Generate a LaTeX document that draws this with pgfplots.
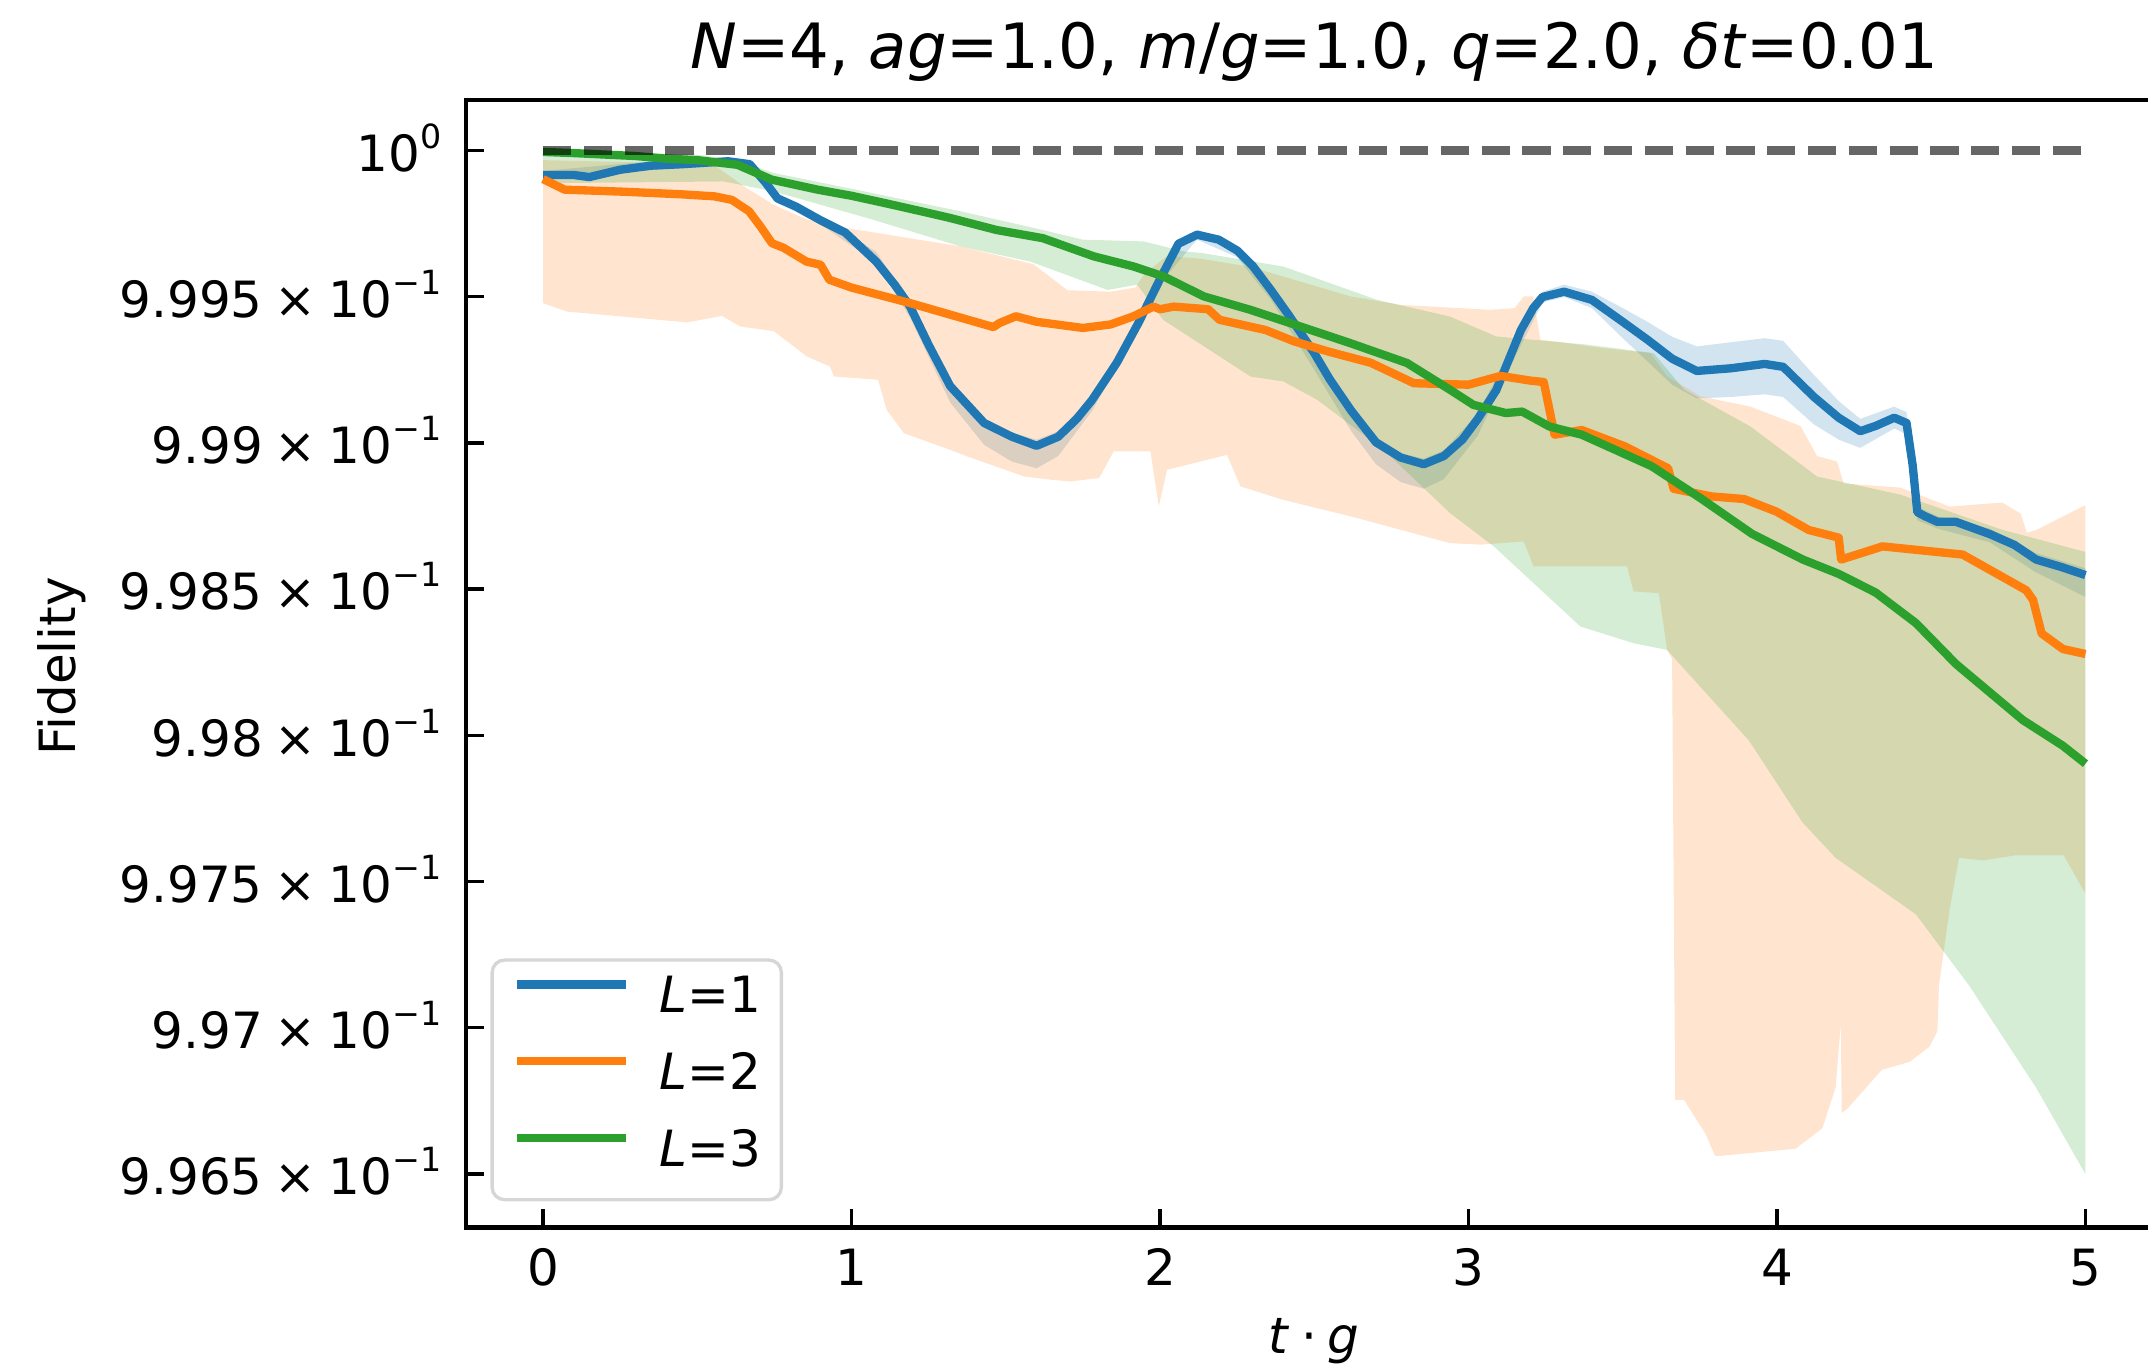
\documentclass[border=0pt]{standalone}
\usepackage{fontspec}
\setmainfont{DejaVu Sans}
\usepackage{pgfplots}
\pgfplotsset{compat=1.18}
\definecolor{c1}{HTML}{1F77B4}
\definecolor{c2}{HTML}{FF7F0E}
\definecolor{c3}{HTML}{2CA02C}
\definecolor{legedge}{gray}{0.84}
\newcommand{\sx}[1]{\raisebox{5.5pt}{\fontsize{8}{9}\selectfont #1}}
\newcommand{\tl}[1]{#1\hspace{0.24em}×\hspace{0.24em}10\sx{−1}}
\begin{document}
\begin{tikzpicture}
\begin{axis}[
  scale only axis, width=407.5pt, height=270.8pt,
  xmin=-0.25, xmax=5.25, ymin=0.996317, ymax=1.000173,
  axis line style={line width=1.1pt},
  major tick style={line width=0.8pt, black},
  major tick length=4.4pt,
  tick align=inside,
  xtick pos=left, ytick pos=left,
  xtick={0,1,2,3,4,5}, xticklabels={0,1,2,3,4,5},
  ytick={0.9965,0.997,0.9975,0.998,0.9985,0.999,0.9995,1},
  yticklabels={\tl{9.965},\tl{9.97},\tl{9.975},\tl{9.98},\tl{9.985},\tl{9.99},\tl{9.995},10\sx{0}},
  tick label style={font=\fontsize{12}{14}\selectfont},
  xticklabel style={anchor=base, inner sep=0pt, yshift=-14pt},
  yticklabel style={anchor=base east, inner sep=0pt, xshift=-5.7pt, yshift=-5pt},
  every axis title shift=0pt,
  title={\textit{N}=4, \textit{ag}=1.0, \textit{m}/\textit{g}=1.0, \textit{q}=2.0, \textit{δt}=0.01},
  title style={at={(axis description cs:0.5,1.0279)}, anchor=base, font=\fontsize{15}{18}\selectfont, inner sep=0pt},
  xlabel={\textit{t}\hspace{0.22em}·\hspace{0.22em}\textit{g}},
  xlabel style={at={(axis description cs:0.5,-0.1118)}, anchor=base, font=\fontsize{12}{14}\selectfont, inner sep=0pt},
  ylabel={Fidelity},
  ylabel style={at={(axis description cs:-0.2303,0.4976)}, anchor=base, font=\fontsize{12}{14}\selectfont, inner sep=0pt},
  legend style={at={(axis description cs:0,0)}, anchor=south west, xshift=5.9pt, yshift=6.25pt,
    draw=legedge, line width=0.8pt, rounded corners=3pt, fill=white, fill opacity=0.8, text opacity=1,
    font=\fontsize{12}{14}\selectfont, inner xsep=4.9pt, inner ysep=3.9pt,
    row sep=5.6pt, column sep=7pt,
    nodes={inner sep=0pt, text depth=4pt}},
  legend cell align=left,
  legend image code/.code={\draw[#1, line width=2pt] (0pt,4.4pt) -- (26.3pt,4.4pt);},
]
% ---- bands ----
\addplot[draw=none, fill=c1, fill opacity=0.2, forget plot] coordinates {
(0,0.999930) (0.3,0.999958) (0.6,0.999977) (0.67,0.999967) (0.76,0.999855) (0.9,0.999775) (1.08,0.999653) (1.19,0.999480) (1.32,0.999208) (1.43,0.999082) (1.52,0.999035) (1.6,0.999011) (1.67,0.999040) (1.78,0.999161) (1.93,0.999424) (2.0,0.999578) (2.12,0.999728) (2.25,0.999672) (2.36,0.999536) (2.5,0.999321) (2.62,0.999124) (2.7,0.999016) (2.78,0.998965) (2.855,0.998946) (2.92,0.998974) (3.03,0.999100) (3.13,0.999302) (3.24,0.999517) (3.31,0.999541) (3.4,0.999517) (3.5,0.999461) (3.58,0.999414) (3.66,0.999363) (3.74,0.999330) (3.85,0.999344) (3.96,0.999358) (4.02,0.999349) (4.12,0.999232) (4.2,0.999143) (4.27,0.999082) (4.38,0.999124) (4.42,0.999105) (4.44,0.998946) (4.455,0.998782) (4.52,0.998749) (4.69,0.998707) (4.84,0.998623) (5.0,0.998571)
(5.0,0.998473) (4.84,0.998557) (4.69,0.998660) (4.52,0.998707) (4.455,0.998735) (4.44,0.998899) (4.42,0.999030) (4.38,0.999049) (4.27,0.998983) (4.2,0.999011) (4.12,0.999063) (4.02,0.999157) (3.96,0.999166) (3.85,0.999157) (3.74,0.999152) (3.66,0.999199) (3.58,0.999279) (3.5,0.999358) (3.4,0.999461) (3.31,0.999499) (3.24,0.999480) (3.13,0.999250) (3.03,0.999025) (2.92,0.998876) (2.855,0.998843) (2.78,0.998866) (2.7,0.998927) (2.62,0.999040) (2.5,0.999250) (2.36,0.999489) (2.25,0.999635) (2.12,0.999695) (2.0,0.999545) (1.93,0.999391) (1.78,0.999110) (1.67,0.998955) (1.6,0.998913) (1.52,0.998936) (1.43,0.998993) (1.32,0.999138) (1.19,0.999428) (1.08,0.999616) (0.9,0.999747) (0.76,0.999822) (0.67,0.999939) (0.6,0.999948) (0.3,0.999930) (0,0.999902)
};
\addplot[draw=none, fill=c2, fill opacity=0.2, forget plot] coordinates {
(0,0.999967) (0.55,0.999953) (0.6,0.999916) (0.66,0.999871) (0.75,0.999813) (0.85,0.999766) (0.964,0.999738) (1.353,0.999672) (1.59,0.999611) (1.70,0.999522) (1.84,0.999517) (1.92,0.999531) (1.95,0.999578) (2.023,0.999639) (2.13,0.999630) (2.293,0.999602) (2.617,0.999501) (2.779,0.999472) (3.071,0.999455) (3.15,0.999461) (3.179,0.999501) (3.21,0.999501) (3.233,0.999353) (3.3,0.999344) (3.428,0.999325) (3.59,0.999307) (3.644,0.999227) (3.752,0.999159) (3.914,0.999124) (4.076,0.999058) (4.13,0.998955) (4.195,0.998936) (4.216,0.998861) (4.40,0.998847) (4.56,0.998782) (4.73,0.998796) (4.79,0.998758) (4.81,0.998693) (4.84,0.998702) (4.945,0.998758) (4.99,0.998782) (5.0,0.998787)
(5.0,0.997458) (4.93,0.997589) (4.77,0.997589) (4.667,0.997572) (4.59,0.997581) (4.56,0.997407) (4.525,0.997144) (4.52,0.996987) (4.494,0.996935) (4.43,0.996883) (4.34,0.996856) (4.23,0.996725) (4.21,0.996708) (4.207,0.997014) (4.19,0.996795) (4.147,0.996656) (4.06,0.996586) (3.80,0.996560) (3.768,0.996638) (3.71,0.996734) (3.70,0.996752) (3.67,0.996753) (3.66,0.998262) (3.644,0.998292) (3.617,0.998486) (3.535,0.998492) (3.514,0.998578) (3.211,0.998578) (3.179,0.998663) (3.04,0.998652) (2.94,0.998657) (2.779,0.998703) (2.617,0.998749) (2.40,0.998805) (2.261,0.998851) (2.217,0.998959) (2.023,0.998908) (1.996,0.998783) (1.969,0.998971) (1.85,0.998971) (1.803,0.998880) (1.71,0.998868) (1.645,0.998874) (1.56,0.998885) (1.374,0.998954) (1.32,0.998976) (1.17,0.999033) (1.114,0.999113) (1.086,0.999216) (0.943,0.999227) (0.93,0.999261) (0.856,0.999295) (0.748,0.999382) (0.64,0.999398) (0.58,0.999434) (0.467,0.999412) (0.078,0.999449) (0,0.999478)
};
\addplot[draw=none, fill=c3, fill opacity=0.2, forget plot] coordinates {
(0,1.000000) (0.5,0.999986) (0.64,0.999963) (0.748,0.999923) (1.0,0.999869) (1.353,0.999792) (1.6,0.999733) (1.75,0.999695) (1.947,0.999689) (2.077,0.999655) (2.138,0.999649) (2.40,0.999603) (2.704,0.999489) (2.94,0.999432) (3.09,0.999364) (3.385,0.999336) (3.6,0.999307) (3.70,0.999181) (3.914,0.999056) (4.13,0.998885) (4.40,0.998823) (4.73,0.998703) (5.0,0.998627)
(5.0,0.996499) (4.84,0.996795) (4.623,0.997144) (4.45,0.997388) (4.19,0.997581) (4.082,0.997703) (3.909,0.997982) (3.67,0.998261) (3.644,0.998292) (3.535,0.998315) (3.363,0.998372) (3.082,0.998646) (2.94,0.998760) (2.725,0.998976) (2.51,0.999147) (2.40,0.999210) (2.293,0.999227) (2.01,0.999421) (1.926,0.999541) (1.83,0.999523) (1.58,0.999620) (1.353,0.999672) (1.07,0.999763) (0.748,0.999860) (0.586,0.999894) (0,0.999888)
};
% ---- mean lines ----
\addplot[c1, line width=2pt, line join=round] coordinates {
(0,0.999916) (0.1,0.999916) (0.15,0.999909) (0.25,0.999934) (0.35,0.999948) (0.45,0.999953) (0.6,0.999963) (0.67,0.999953) (0.72,0.999892) (0.76,0.999836) (0.82,0.999808) (0.9,0.999761) (0.98,0.999719) (1.08,0.999620) (1.14,0.999541) (1.19,0.999466) (1.25,0.999335) (1.32,0.999194) (1.43,0.999068) (1.52,0.999021) (1.6,0.998990) (1.67,0.999021) (1.73,0.999082) (1.78,0.999147) (1.86,0.999274) (1.93,0.999410) (2.0,0.999560) (2.06,0.999681) (2.12,0.999712) (2.19,0.999695) (2.25,0.999658) (2.3,0.999606) (2.36,0.999522) (2.42,0.999433) (2.5,0.999307) (2.55,0.999218) (2.62,0.999110) (2.7,0.999002) (2.78,0.998950) (2.855,0.998927) (2.92,0.998955) (2.98,0.999011) (3.03,0.999082) (3.09,0.999180) (3.13,0.999283) (3.17,0.999386) (3.21,0.999461) (3.24,0.999499) (3.31,0.999517) (3.4,0.999489) (3.5,0.999414) (3.58,0.999353) (3.66,0.999288) (3.74,0.999246) (3.85,0.999255) (3.96,0.999270) (4.02,0.999260) (4.12,0.999157) (4.2,0.999086) (4.27,0.999040) (4.32,0.999058) (4.38,0.999086) (4.42,0.999068) (4.44,0.998922) (4.455,0.998763) (4.48,0.998749) (4.52,0.998730) (4.58,0.998730) (4.69,0.998688) (4.77,0.998651) (4.84,0.998601) (4.92,0.998576) (5.0,0.998548)
};
\addlegendentry{\textit{L}=1}
\addplot[c2, line width=2pt, line join=round] coordinates {
(0,0.999902) (0.07,0.999866) (0.26,0.999859) (0.45,0.999850) (0.556,0.999843) (0.612,0.999831) (0.668,0.999792) (0.705,0.999740) (0.742,0.999683) (0.78,0.999667) (0.854,0.999620) (0.9,0.999609) (0.928,0.999558) (1.0,0.999531) (1.19,0.999478) (1.46,0.999396) (1.48,0.999410) (1.533,0.999433) (1.6,0.999414) (1.75,0.999393) (1.84,0.999405) (1.914,0.999433) (1.979,0.999466) (2.0,0.999457) (2.044,0.999466) (2.156,0.999457) (2.193,0.999421) (2.342,0.999386) (2.435,0.999347) (2.55,0.999311) (2.683,0.999274) (2.823,0.999204) (3.0,0.999199) (3.104,0.999229) (3.2,0.999213) (3.244,0.999208) (3.279,0.999028) (3.367,0.999044) (3.507,0.998988) (3.647,0.998913) (3.665,0.998843) (3.787,0.998817) (3.893,0.998808) (3.998,0.998765) (4.103,0.998702) (4.2,0.998676) (4.208,0.998601) (4.342,0.998646) (4.602,0.998618) (4.808,0.998496) (4.83,0.998463) (4.858,0.998348) (4.927,0.998295) (5.0,0.998278)
};
\addlegendentry{\textit{L}=2}
\addplot[c3, line width=2pt, line join=round] coordinates {
(0,0.999995) (0.1,0.999991) (0.2,0.999986) (0.3,0.999981) (0.4,0.999972) (0.5,0.999967) (0.63,0.999951) (0.742,0.999900) (0.89,0.999866) (1.0,0.999845) (1.1,0.999822) (1.226,0.999792) (1.32,0.999769) (1.47,0.999728) (1.62,0.999700) (1.785,0.999638) (1.915,0.999603) (2.012,0.999569) (2.142,0.999501) (2.293,0.999455) (2.455,0.999398) (2.617,0.999341) (2.801,0.999273) (2.941,0.999181) (3.016,0.999130) (3.121,0.999102) (3.174,0.999107) (3.262,0.999056) (3.367,0.999028) (3.594,0.998920) (3.752,0.998811) (3.919,0.998689) (4.084,0.998601) (4.2,0.998552) (4.32,0.998488) (4.45,0.998384) (4.58,0.998244) (4.797,0.998052) (4.927,0.997964) (5.0,0.997903)
};
\addlegendentry{\textit{L}=3}
% ---- reference line ----
\addplot[black, opacity=0.6, line width=2pt, dash pattern=on 6.8pt off 3pt, forget plot] coordinates {(0,1) (5,1)};
\end{axis}
\pgfresetboundingbox
\path[use as bounding box] ([shift={(-111.9pt,-33.2pt)}]current axis.south west) rectangle ([shift={(404.0pt,294.8pt)}]current axis.south west);
\end{tikzpicture}
\end{document}
